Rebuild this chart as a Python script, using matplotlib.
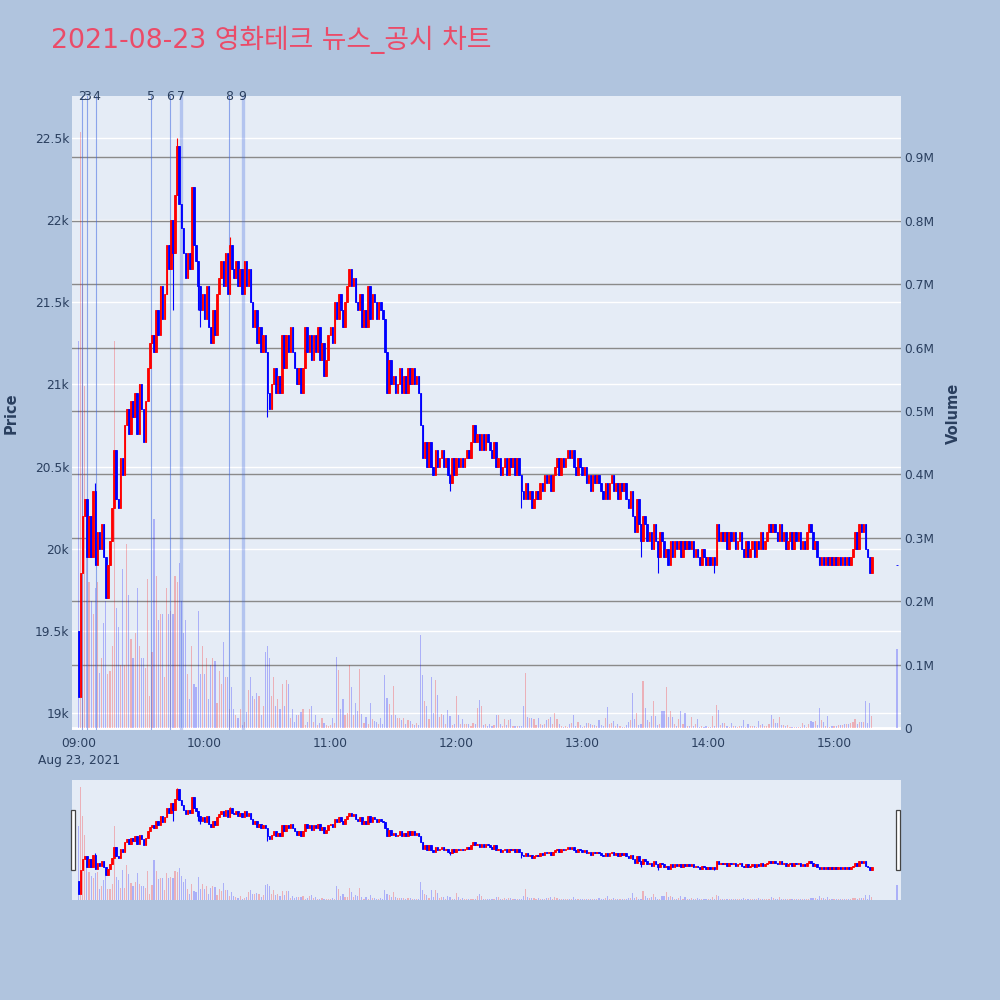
import matplotlib
matplotlib.use("Agg")
import matplotlib.pyplot as plt
from matplotlib.transforms import blended_transform_factory
from matplotlib.patches import Rectangle
import numpy as np

plt.rcParams['font.family'] = ['DejaVu Sans', 'Noto Sans CJK KR']

TITLE = "2021-08-23 영화테크 뉴스_공시 차트"

# ---------------- data ----------------
minute_offsets = list(range(379)) + [390]          # 09:00 .. 15:18, then 15:30
times = [f"{9 + m // 60:02d}:{m % 60:02d}" for m in minute_offsets]

first_open = 19500
last_open = 19900
closes = [
    19100, 19850, 20200, 20300, 19950, 20200, 19950, 20350, 19900, 20100,
    20000, 20150, 19950, 19700, 19900, 20050, 20250, 20600, 20300, 20250,
    20550, 20450, 20750, 20850, 20700, 20900, 20800, 20950, 20700, 21000,
    20850, 20650, 20900, 21100, 21250, 21300, 21200, 21450, 21300, 21600,
    21400, 21550, 21850, 21700, 22000, 21800, 22150, 22450, 22100, 21950,
    21800, 21650, 21800, 21700, 22200, 21850, 21750, 21600, 21450, 21550,
    21400, 21600, 21350, 21250, 21450, 21300, 21550, 21650, 21750, 21600,
    21800, 21550, 21850, 21700, 21650, 21750, 21600, 21700, 21550, 21750,
    21600, 21700, 21500, 21350, 21450, 21250, 21350, 21200, 21300, 21200,
    20950, 20850, 21000, 21100, 20950, 21050, 20950, 21300, 21100, 21300,
    21200, 21350, 21200, 21100, 21000, 21100, 20950, 21100, 21350, 21200,
    21300, 21150, 21300, 21200, 21350, 21150, 21250, 21050, 21150, 21300,
    21350, 21250, 21500, 21400, 21550, 21450, 21350, 21500, 21600, 21700,
    21600, 21650, 21500, 21450, 21550, 21350, 21450, 21350, 21600, 21400,
    21550, 21500, 21400, 21500, 21450, 21400, 21200, 20950, 21150, 21000,
    21050, 20950, 21000, 21100, 20950, 21050, 20950, 21100, 21000, 21100,
    21000, 21050, 20950, 20750, 20550, 20650, 20500, 20650, 20500, 20450,
    20600, 20500, 20550, 20600, 20500, 20550, 20450, 20400, 20550, 20450,
    20550, 20500, 20550, 20500, 20550, 20600, 20550, 20650, 20750, 20650,
    20700, 20600, 20700, 20600, 20700, 20650, 20600, 20550, 20650, 20500,
    20550, 20450, 20500, 20550, 20450, 20550, 20500, 20550, 20450, 20550,
    20450, 20350, 20300, 20400, 20300, 20350, 20250, 20300, 20350, 20300,
    20400, 20350, 20450, 20400, 20450, 20350, 20450, 20500, 20550, 20450,
    20550, 20500, 20550, 20600, 20550, 20600, 20500, 20450, 20550, 20500,
    20450, 20500, 20400, 20450, 20350, 20450, 20400, 20450, 20400, 20350,
    20300, 20400, 20300, 20400, 20450, 20350, 20400, 20300, 20400, 20350,
    20400, 20300, 20250, 20350, 20200, 20100, 20300, 20150, 20050, 20200,
    20150, 20050, 20100, 20000, 20150, 20050, 19950, 20100, 20050, 19950,
    20000, 19900, 20050, 19950, 20050, 20000, 20050, 19950, 20050, 20000,
    20050, 20000, 20050, 19950, 20000, 19950, 19900, 20000, 19950, 19900,
    19950, 19900, 19950, 19900, 20150, 20050, 20100, 20050, 20100, 20000,
    20100, 20050, 20100, 20000, 20050, 20100, 20000, 19950, 20050, 19950,
    20000, 20050, 19950, 20050, 20000, 20100, 20000, 20050, 20100, 20150,
    20100, 20150, 20100, 20050, 20150, 20050, 20100, 20000, 20050, 20100,
    20000, 20100, 20050, 20100, 20000, 20050, 20000, 20100, 20150, 20100,
    20000, 20050, 19950, 19900, 19950, 19900, 19950, 19900, 19950, 19900,
    19950, 19900, 19950, 19900, 19950, 19900, 19950, 19900, 19950, 20000,
    20100, 20000, 20150, 20100, 20150, 20000, 19950, 19850, 19950,
    19900,
]

volumes_k = [
    610, 940, 700, 540, 320, 230, 200, 180, 220, 230,
    87, 110, 165, 200, 85, 90, 130, 610, 190, 160,
    100, 250, 100, 290, 210, 140, 110, 150, 220, 130,
    110, 110, 95, 235, 50, 120, 330, 240, 170, 180,
    180, 80, 220, 180, 185, 180, 240, 230, 260, 200,
    150, 170, 85, 45, 130, 70, 65, 185, 85, 130,
    85, 110, 45, 100, 110, 105, 40, 90, 70, 135,
    80, 80, 30, 65, 30, 20, 15, 30, 5, 10,
    25, 60, 80, 50, 45, 55, 50, 20, 35, 120,
    130, 110, 50, 80, 35, 45, 30, 70, 35, 75,
    70, 15, 30, 10, 20, 20, 25, 30, 5, 10,
    30, 35, 10, 20, 5, 8, 15, 8, 5, 3,
    5, 15, 8, 112, 92, 30, 45, 20, 23, 100,
    65, 20, 40, 26, 93, 22, 8, 18, 7, 40,
    14, 11, 9, 7, 15, 7, 84, 48, 38, 20,
    66, 20, 15, 15, 12, 15, 7, 12, 11, 6,
    5, 8, 5, 147, 84, 43, 35, 14, 81, 23,
    76, 52, 17, 22, 20, 6, 28, 19, 5, 7,
    51, 20, 6, 14, 6, 6, 6, 3, 8, 6,
    31, 44, 34, 5, 7, 3, 6, 3, 5, 21,
    21, 6, 3, 14, 5, 12, 14, 3, 3, 3,
    3, 3, 34, 87, 18, 15, 15, 14, 5, 15,
    6, 5, 7, 12, 14, 18, 6, 23, 14, 6,
    3, 1, 3, 1, 6, 8, 20, 3, 9, 5,
    2, 3, 8, 8, 6, 5, 5, 3, 12, 5,
    3, 15, 33, 6, 8, 11, 3, 6, 3, 1,
    1, 4, 10, 13, 55, 14, 24, 5, 7, 74,
    31, 12, 10, 19, 43, 19, 5, 7, 26, 26,
    65, 18, 26, 18, 7, 3, 14, 26, 7, 24,
    3, 3, 17, 3, 6, 14, 2, 3, 2, 3,
    2, 2, 19, 3, 37, 29, 5, 8, 8, 3,
    2, 8, 3, 3, 2, 3, 3, 12, 2, 7,
    3, 3, 3, 2, 11, 5, 6, 3, 3, 7,
    20, 14, 8, 8, 18, 5, 5, 3, 5, 2,
    2, 2, 2, 2, 2, 8, 5, 2, 6, 11,
    10, 11, 5, 31, 13, 10, 3, 19, 2, 3,
    3, 3, 5, 5, 5, 7, 7, 7, 8, 10,
    14, 7, 10, 10, 10, 42, 8, 39, 19,
    124,
]

wick_high = {8: 20400, 47: 22500, 54: 22200, 72: 21900, 188: 20750}
wick_low = {45: 21450, 57: 21450, 58: 21350, 90: 20800, 177: 20350,
            211: 20250, 268: 19950, 276: 19850, 303: 19850, 377: 19850}

event_times = ["09:01:30", "09:03:55", "09:08:30", "09:34:25",
               "09:43:35", "09:48:40", "10:11:35", "10:18:10"]
event_labels = ["2", "3", "4", "5", "6", "7", "8", "9"]

price_ticks = [19000, 19500, 20000, 20500, 21000, 21500, 22000, 22500]
price_tick_labels = ["19k", "19.5k", "20k", "20.5k", "21k", "21.5k", "22k", "22.5k"]
volume_ticks_k = [0, 100, 200, 300, 400, 500, 600, 700, 800, 900]
volume_tick_labels = ["0", "0.1M", "0.2M", "0.3M", "0.4M", "0.5M",
                      "0.6M", "0.7M", "0.8M", "0.9M"]
hour_ticks = ["09:00", "10:00", "11:00", "12:00", "13:00", "14:00", "15:00"]
date_label = "Aug 23, 2021"

# ---------------- derived ----------------
def to_minutes(s):
    parts = [int(p) for p in s.split(":")]
    while len(parts) < 3:
        parts.append(0)
    return (parts[0] - 9) * 60 + parts[1] + parts[2] / 60.0

x = np.array([to_minutes(t) for t in times])
c = np.array(closes, dtype=float)
o = np.array([first_open] + closes[:378] + [last_open], dtype=float)
hi = np.maximum(o, c)
lo = np.minimum(o, c)
for k, v in wick_high.items():
    hi[k] = max(hi[k], v)
for k, v in wick_low.items():
    lo[k] = min(lo[k], v)
up = c > o
vol = np.array(volumes_k, dtype=float) * 1000

UP, DOWN = "#FF0000", "#0000FF"
cand_col = np.where(up, UP, DOWN)
vol_col = [(1, 0, 0, 0.25) if u else (0, 0, 1, 0.25) for u in up]

TXT = "#2a3f5f"
PAPER = "#B0C4DE"
PLOT = "#E5ECF6"

XLIM = (-3.1, 391.9)
PLIM = (18897, 22755)
VLIM = (-3200, 996800)

fig = plt.figure(figsize=(10, 10), dpi=100, facecolor=PAPER)


def draw(ax_v, ax_p, slider=False):
    ax_v.set_facecolor(PLOT)
    if not slider:
        trans = blended_transform_factory(ax_v.transAxes, ax_p.transData)
        for p in price_ticks:
            ax_v.plot([0, 1], [p, p], transform=trans, color="white",
                      lw=1.0, zorder=0.5)
        for v in volume_ticks_k[1:]:
            ax_v.axhline(v * 1000, color="#8a8a8a", lw=1.0, zorder=0.6)
        ax_v.axhline(0, color="white", lw=2.0, zorder=0.7)
    ax_v.bar(x, vol, width=0.55, color=vol_col, linewidth=0, zorder=1)
    if not slider:
        evx = [to_minutes(t) for t in event_times]
        for ex, lab in zip(evx, event_labels):
            wide = lab in ("7", "9")
            ax_v.axvline(ex, color="royalblue", lw=2.4 if wide else 0.8,
                         alpha=0.3 if wide else 0.55, zorder=1.5)
            ax_v.text(ex, 1.0, lab, transform=blended_transform_factory(
                ax_v.transData, ax_v.transAxes), ha="center", va="center",
                fontsize=9, color=TXT, zorder=5, clip_on=False)
    ax_p.vlines(x, lo, hi, colors=cand_col, lw=0.8, zorder=2)
    ax_p.bar(x, np.abs(c - o), bottom=np.minimum(o, c),
             width=0.75, color=cand_col, edgecolor=cand_col, linewidth=0.6, zorder=3)
    for a in (ax_v, ax_p):
        a.set_xlim(*XLIM)
        for s in a.spines.values():
            s.set_visible(False)
    ax_v.set_ylim(*VLIM)
    ax_p.set_ylim(*PLIM)


# main chart
ax_vol = fig.add_axes([0.072, 0.27, 0.829, 0.634])
ax_price = ax_vol.twinx()
draw(ax_vol, ax_price)

ax_price.yaxis.tick_left()
ax_price.set_yticks(price_ticks)
ax_price.set_yticklabels(price_tick_labels)
ax_price.tick_params(axis="y", length=0, pad=2, labelsize=8.8, labelcolor=TXT)
ax_vol.yaxis.tick_right()
ax_vol.set_yticks([v * 1000 for v in volume_ticks_k])
ax_vol.set_yticklabels(volume_tick_labels)
ax_vol.tick_params(axis="y", length=0, pad=2, labelsize=8.8, labelcolor=TXT)

xt = [to_minutes(h) for h in hour_ticks]
xl = [hour_ticks[0] + "\n" + date_label] + hour_ticks[1:]
ax_vol.set_xticks(xt)
ax_vol.set_xticklabels(xl, linespacing=1.4)
ax_vol.tick_params(axis="x", length=0, pad=5, labelsize=8.8, labelcolor=TXT)
ax_price.tick_params(axis="x", length=0, labelbottom=False)

fig.text(0.011, 0.587, "Price", rotation=90, ha="center", va="center",
         fontsize=10.5, fontweight="bold", color=TXT)
fig.text(0.953, 0.587, "Volume", rotation=90, ha="center", va="center",
         fontsize=10.5, fontweight="bold", color=TXT)

fig.text(0.051, 0.960, TITLE, ha="left", va="center", fontsize=19.3,
         color="#EB4B68", family=["DejaVu Sans", "Noto Sans CJK KR"])

# range slider
ax_sv = fig.add_axes([0.072, 0.10, 0.829, 0.12])
ax_sp = ax_sv.twinx()
draw(ax_sv, ax_sp, slider=True)
for a in (ax_sv, ax_sp):
    a.set_xticks([])
    a.set_yticks([])
for hx in (0.0705, 0.8955):
    fig.patches.append(Rectangle((hx, 0.13), 0.0045, 0.06, transform=fig.transFigure,
                                 facecolor="white", edgecolor="#444444", lw=0.9,
                                 zorder=10))

fig.savefig("out.png", dpi=100, facecolor=PAPER)
